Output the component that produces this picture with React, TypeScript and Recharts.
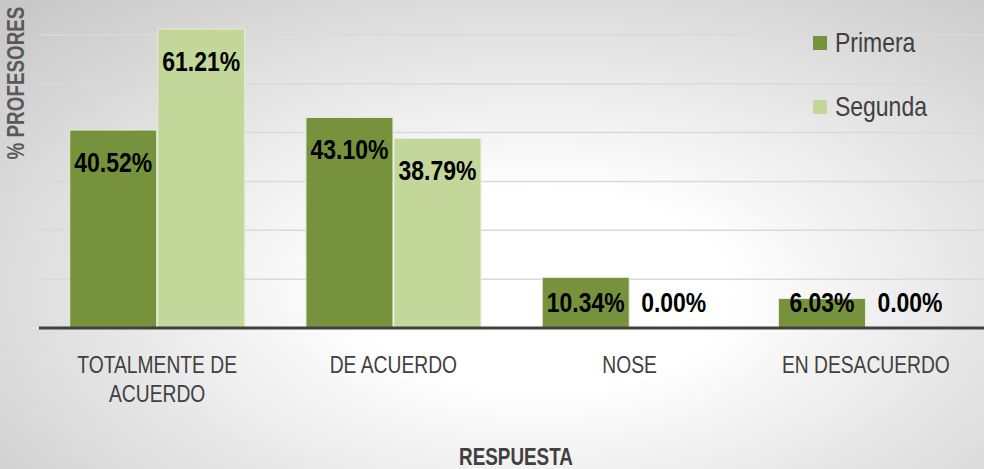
import React from 'react';
import { BarChart, Bar, XAxis, YAxis, CartesianGrid, Label } from 'recharts';

const categories = ['TOTALMENTE DE\nACUERDO', 'DE ACUERDO', 'NOSE', 'EN DESACUERDO'];
const primera = [40.52, 43.1, 10.34, 6.03];
const segunda = [61.21, 38.79, 0, 0];
const yTicks = [0, 10, 20, 30, 40, 50, 60, 70];

const FONT = "'Liberation Sans', Arial, sans-serif";
const NARROW = 0.82;
const DARK = '#77923c';
const LIGHT = '#c4d79b';

const data = categories.map((name, i) => ({ name, primera: primera[i], segunda: segunda[i] }));

// Arial Narrow is not available, so squeeze Liberation Sans horizontally
const NarrowText = ({ x, y, rotate = 0, children, ...rest }: any) => (
  <text
    transform={`translate(${x},${y}) rotate(${rotate}) scale(${NARROW},1)`}
    textAnchor="middle"
    fontFamily={FONT}
    {...rest}
  >
    {children}
  </text>
);

const CategoryTick = (props: any) => {
  const { x, y, payload } = props;
  const lines = String(payload.value).split('\n');
  return (
    <g>
      {lines.map((line, i) => (
        <NarrowText key={i} x={x} y={y + 37 + i * 29} fill="#404040" fontSize={23.5}>
          {line}
        </NarrowText>
      ))}
    </g>
  );
};

const BarWithLabel = (props: any) => {
  const { x, y, width, height, fill, value } = props;
  const v = Array.isArray(value) ? value[1] - value[0] : value;
  const cy = Math.min(y + 32, y + height - 26);
  return (
    <g>
      {height > 0 && (
        <rect x={x} y={y} width={width} height={height} fill={fill} stroke="#e6eedb" strokeWidth={1} />
      )}
      <NarrowText x={x + width / 2} y={cy + 10} fill="#000" fontSize={28} fontWeight="bold">
        {Number(v).toFixed(2)}%
      </NarrowText>
    </g>
  );
};

export default function App() {
  return (
    <div
      style={{
        position: 'absolute',
        left: 0,
        top: 0,
        width: 984,
        height: 469,
        background: 'radial-gradient(ellipse 75% 85% at 55% 62%, #ffffff 25%, #c8c8c8 100%)',
      }}
    >
      <BarChart
        width={984}
        height={469}
        data={data}
        margin={{ top: -14, right: 0, bottom: 81, left: 39 }}
        barCategoryGap="13%"
        barGap={1}
      >
        <CartesianGrid vertical={false} stroke="#d9d9d9" strokeWidth={1.5} />
        <XAxis
          dataKey="name"
          interval={0}
          tick={<CategoryTick />}
          tickLine={false}
          axisLine={{ stroke: '#404040', strokeWidth: 3 }}
          height={60}
        >
          <Label
            content={() => (
              <g>
                <NarrowText x={516} y={465} fill="#404040" fontSize={23} fontWeight="bold">
                  RESPUESTA
                </NarrowText>
                <NarrowText x={24} y={83} rotate={-90} fill="#595959" fontSize={23} fontWeight="bold">
                  % PROFESORES
                </NarrowText>
              </g>
            )}
          />
        </XAxis>
        <YAxis
          domain={[0, 70]}
          ticks={yTicks}
          interval={0}
          tick={() => <g />}
          axisLine={false}
          tickLine={false}
          width={0}
        />
        <Bar dataKey="primera" name="Primera" fill={DARK} shape={<BarWithLabel />} isAnimationActive={false} />
        <Bar dataKey="segunda" name="Segunda" fill={LIGHT} shape={<BarWithLabel />} isAnimationActive={false} />
      </BarChart>
      <div
        style={{
          position: 'absolute',
          left: 813,
          top: 11,
          fontFamily: FONT,
          fontSize: 28,
          color: '#404040',
          lineHeight: '64px',
        }}
      >
        {[
          { name: 'Primera', color: DARK },
          { name: 'Segunda', color: LIGHT },
        ].map((item) => (
          <div key={item.name} style={{ display: 'flex', alignItems: 'center' }}>
            <span style={{ width: 14, height: 14, background: item.color, marginRight: 8, display: 'inline-block' }} />
            <span style={{ display: 'inline-block', transform: `scaleX(${NARROW})`, transformOrigin: 'left center' }}>
              {item.name}
            </span>
          </div>
        ))}
      </div>
    </div>
  );
}
